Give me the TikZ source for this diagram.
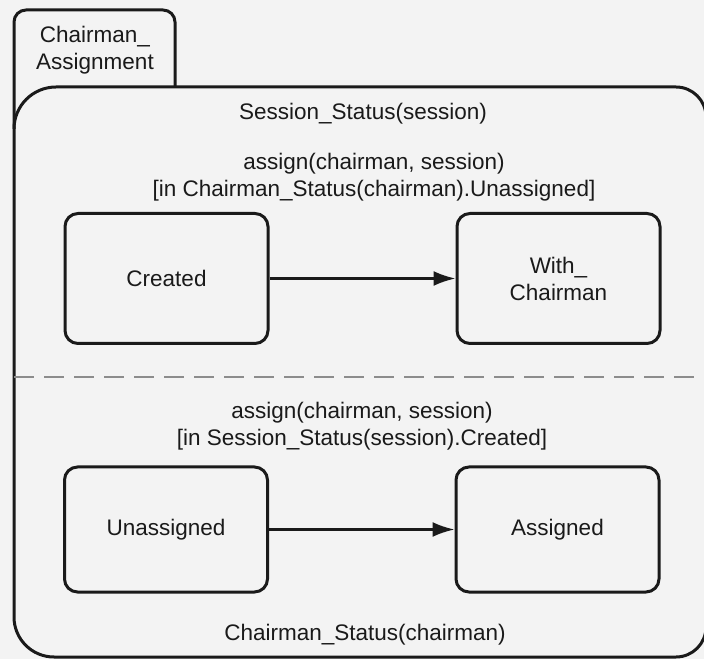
\documentclass[tikz,border=0pt]{standalone}
\usepackage{fontspec}
\setmainfont{Liberation Sans}
\usetikzlibrary{arrows.meta}
\definecolor{paper}{HTML}{F3F3F3}
\definecolor{ink}{HTML}{1A1A1A}
\begin{document}
\begin{tikzpicture}[x=1pt,y=1pt,
  outline/.style={line width=3pt, line join=round, draw=ink},
  statebox/.style={draw=ink, line width=3pt, rounded corners=13pt,
    minimum width=203pt, minimum height=130pt, align=center,
    inner sep=0pt, text=ink},
  label/.style={align=center, inner sep=0pt, text=ink},
  trans/.style={line width=2.4pt, draw=ink, -{Latex[length=22pt,width=15pt]}},
  region/.style={line width=1.6pt, draw=black!45, dash pattern=on 20pt off 10pt}]
  \fontsize{22.5}{27}\selectfont
  % canvas
  \fill[paper] (0,0) rectangle (704,659);
  \useasboundingbox (0,0) rectangle (704,659);

  % composite state body
  \draw[outline] (14,530) arc (180:90:42) -- (676,572) arc (90:0:30)
    -- (706,32) arc (0:-90:30) -- (54,2) arc (270:180:40) -- cycle;
  % name tab
  \draw[outline, rounded corners=12pt] (14,530) -- (14,649) -- (175,649) -- (175,572);
  \node[label] (tabname) at (95,608.5) {Chairman\_\\Assignment};

  % upper region
  \node[label] (upname) at (363,545) {Session\_Status(session)};
  \node[label] (upguard) at (374,481.5) {assign(chairman, session)\\{}[in Chairman\_Status(chairman).Unassigned]};
  \node[statebox] (created) at (166.5,380.5) {Created};
  \node[statebox] (withch) at (558.5,380.5) {With\_\\Chairman};
  \draw[trans] (created) -- (withch);

  % region separator
  \coordinate (sepL) at (14,282);
  \coordinate (sepR) at (704,282);
  \draw[region] (sepL) -- (sepR);

  % lower region
  \node[label] (lowguard) at (362,232.5) {assign(chairman, session)\\{}[in Session\_Status(session).Created]};
  \node[statebox, minimum height=125pt] (unassigned) at (166,129.5) {Unassigned};
  \node[statebox, minimum height=125pt] (assigned) at (557.5,129.5) {Assigned};
  \draw[trans] (unassigned) -- (assigned);
  \node[label] (lowname) at (365,24) {Chairman\_Status(chairman)};
\end{tikzpicture}
\end{document}
